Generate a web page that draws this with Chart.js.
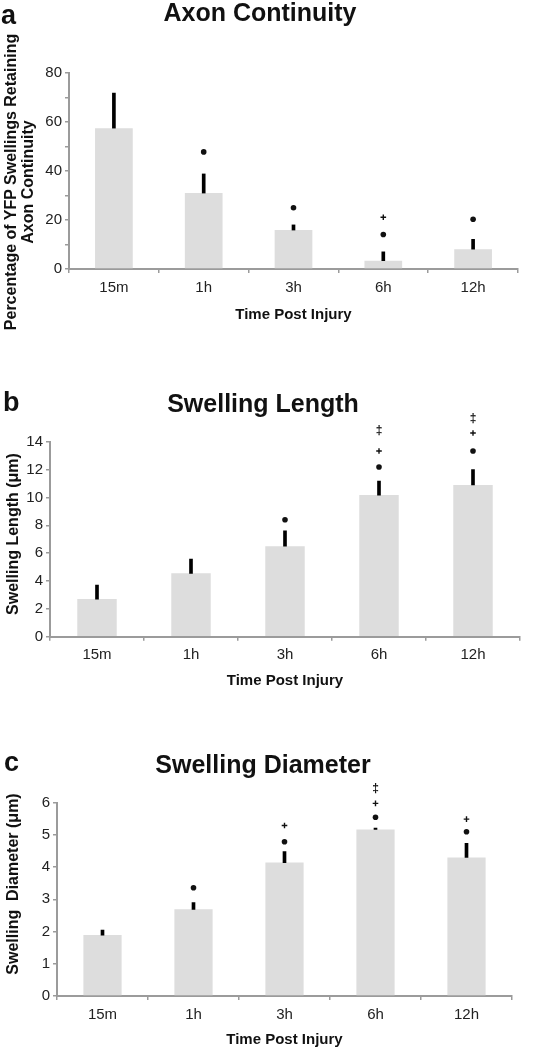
<!DOCTYPE html>
<html>
<head>
<meta charset="utf-8">
<script src="https://cdn.jsdelivr.net/npm/chart.js@4"></script>
<style>
body { margin: 0; background: #fff; width: 544px; height: 1050px; position: relative; overflow: hidden; font-family: "Liberation Sans", Arial, sans-serif; }
canvas { display: block; }
.panel { position: absolute; left: 0; }
.ttl { position: absolute; left: 0; font-weight: bold; font-size: 25px; line-height: 25px; text-align: center; color: #111; white-space: nowrap; }
.lbl { position: absolute; font-weight: bold; font-size: 27px; line-height: 27px; color: #111; }
/* rotated y-axis titles, anchored on their centre point */
.ytl { position: absolute; width: 0; height: 0; }
.ytl div { position: absolute; left: 0; top: 0; transform: translate(-50%, -50%) rotate(-90deg); font-weight: bold; font-size: 16px; line-height: 17px; text-align: center; color: #111; white-space: pre; }
</style>
</head>
<body>
<div class="panel" style="top:0px"><canvas id="chartA" width="544" height="330"></canvas></div>
<div class="panel" style="top:380px"><canvas id="chartB" width="544" height="320"></canvas></div>
<div class="panel" style="top:735px"><canvas id="chartC" width="544" height="315"></canvas></div>

<div class="lbl" style="left:1px;top:2px">a</div>
<div class="ttl" style="top:0px;width:520px">Axon Continuity</div>
<div class="ytl" style="left:18.5px;top:182px"><div>Percentage of YFP Swellings Retaining<br>Axon Continuity</div></div>

<div class="lbl" style="left:3px;top:389px">b</div>
<div class="ttl" style="top:391px;width:526px">Swelling Length</div>
<div class="ytl" style="left:11.5px;top:534px"><div>Swelling Length (μm)</div></div>

<div class="lbl" style="left:4px;top:749px">c</div>
<div class="ttl" style="top:752px;width:526px">Swelling Diameter</div>
<div class="ytl" style="left:11.5px;top:884px"><div>Swelling  Diameter (μm)</div></div>

<script>
"use strict"

const categories = ['15m', '1h', '3h', '6h', '12h']

// a - axon continuity (%), mean and upper error
const contMean = [57.5, 31, 15.9, 3.4, 8.1]
const contErr = [14.3, 7.8, 2.1, 3.6, 4.0]
const contDot = [null, 47.8, 25, 14.1, 20.3]
const contDagger = [null, null, null, 21.1, null]
const contDDagger = [null, null, null, null, null]
const contTicks = [0, 20, 40, 60, 80]

// b - swelling length (um)
const lenMean = [2.7, 4.55, 6.5, 10.17, 10.89]
const lenErr = [1.0, 1.03, 1.1, 1.01, 1.11]
const lenDot = [null, null, 8.4, 12.18, 13.33]
const lenDagger = [null, null, null, 13.33, 14.62]
const lenDDagger = [null, null, null, 14.77, 15.68]
const lenTicks = [0, 2, 4, 6, 8, 10, 12, 14]

// c - swelling diameter (um)
const diaMean = [1.89, 2.69, 4.14, 5.17, 4.3]
const diaErr = [0.16, 0.21, 0.34, 0.04, 0.44]
const diaDot = [null, 3.36, 4.79, 5.55, 5.1]
const diaDagger = [null, null, 5.29, 5.98, 5.49]
const diaDDagger = [null, null, null, 6.42, null]
const diaTicks = [0, 1, 2, 3, 4, 5, 6]

const fam = '"Liberation Sans", Arial, sans-serif'
const barGray = '#dddddd'
const axisGray = '#9b9b9b'

// significance symbols (•, +, ‡) placed with the chart scales,
// drawn by a plugin so that marks above the axis max are not clipped
const sigMarks = {
    id: 'sigMarks',
    afterDatasetsDraw(chart, args, opts) {
        const ctx = chart.ctx
        const xs = chart.scales.x
        const ys = chart.scales.y
        ctx.save()
        ctx.fillStyle = '#111'
        ctx.strokeStyle = '#111'
        opts.dot.forEach((v, i) => {
            if (v === null) return
            ctx.beginPath()
            ctx.arc(xs.getPixelForValue(i), ys.getPixelForValue(v), 2.8, 0, Math.PI * 2)
            ctx.fill()
        })
        ctx.lineWidth = 1.4
        opts.dagger.forEach((v, i) => {
            if (v === null) return
            const x = xs.getPixelForValue(i)
            const y = ys.getPixelForValue(v)
            ctx.beginPath()
            ctx.moveTo(x - 2.8, y)
            ctx.lineTo(x + 2.8, y)
            ctx.moveTo(x, y - 2.8)
            ctx.lineTo(x, y + 2.8)
            ctx.stroke()
        })
        ctx.font = 'bold 12px ' + fam
        ctx.textAlign = 'center'
        ctx.textBaseline = 'middle'
        opts.ddagger.forEach((v, i) => {
            if (v === null) return
            ctx.fillText('‡', xs.getPixelForValue(i), ys.getPixelForValue(v))
        })
        ctx.restore()
    }
}

function drawPanel(id, p) {
    const ctx = document.getElementById(id)
    const canvasH = ctx.height
    return new Chart(ctx, {
        type: 'bar',
        data: {
            labels: categories,
            datasets: [{
                label: 'mean',
                data: p.mean,
                backgroundColor: barGray,
                barPercentage: 0.42,
                categoryPercentage: 1,
                grouped: false,
                order: 2
            },
            {
                label: 'error',
                data: p.mean.map((m, i) => [m, m + p.err[i]]),
                backgroundColor: '#000',
                barThickness: 3,
                grouped: false,
                order: 1
            }]
        },
        plugins: [sigMarks],
        options: {
            animation: false,
            responsive: false,
            events: [],
            layout: { padding: { top: p.top, right: 544 - p.right, bottom: 0, left: 0 } },
            plugins: {
                legend: { display: false },
                tooltip: { enabled: false },
                sigMarks: { dot: p.dot, dagger: p.dagger, ddagger: p.ddagger }
            },
            scales: {
                x: {
                    grid: { drawOnChartArea: false, tickLength: 4, color: axisGray, lineWidth: 1.5 },
                    border: { color: axisGray, width: 2 },
                    ticks: { color: '#222', font: { size: 15, family: fam }, padding: p.tickPad },
                    title: {
                        display: true,
                        text: 'Time Post Injury',
                        color: '#111',
                        font: { size: 15, weight: 'bold', family: fam },
                        padding: { top: 0, bottom: p.titlePad }
                    },
                    afterFit: (scale) => { scale.height = canvasH - p.bottom }
                },
                y: {
                    min: 0,
                    max: p.max,
                    grid: { drawOnChartArea: false, tickLength: 4, color: axisGray, lineWidth: 1.5 },
                    border: { color: axisGray, width: 2 },
                    ticks: {
                        stepSize: p.step,
                        autoSkip: false,
                        padding: 3,
                        color: '#222',
                        font: { size: 15, family: fam },
                        callback: (v) => p.labels.includes(v) ? v : ''
                    },
                    // y title is the rotated html text at the left edge
                    afterFit: (scale) => { scale.width = p.yWidth }
                }
            }
        }
    })
}

drawPanel('chartA', {
    mean: contMean, err: contErr, dot: contDot, dagger: contDagger, ddagger: contDDagger,
    labels: contTicks, max: 80, step: 10,
    yWidth: 69, top: 73, bottom: 269, right: 518, tickPad: 6, titlePad: 6
})

drawPanel('chartB', {
    mean: lenMean, err: lenErr, dot: lenDot, dagger: lenDagger, ddagger: lenDDagger,
    labels: lenTicks, max: 14, step: 2,
    yWidth: 50, top: 61.7, bottom: 256.7, right: 520, tickPad: 5, titlePad: 10
})

drawPanel('chartC', {
    mean: diaMean, err: diaErr, dot: diaDot, dagger: diaDagger, ddagger: diaDDagger,
    labels: diaTicks, max: 6, step: 1,
    yWidth: 57, top: 67.7, bottom: 261, right: 512, tickPad: 6, titlePad: 1
})
</script>
</body>
</html>
